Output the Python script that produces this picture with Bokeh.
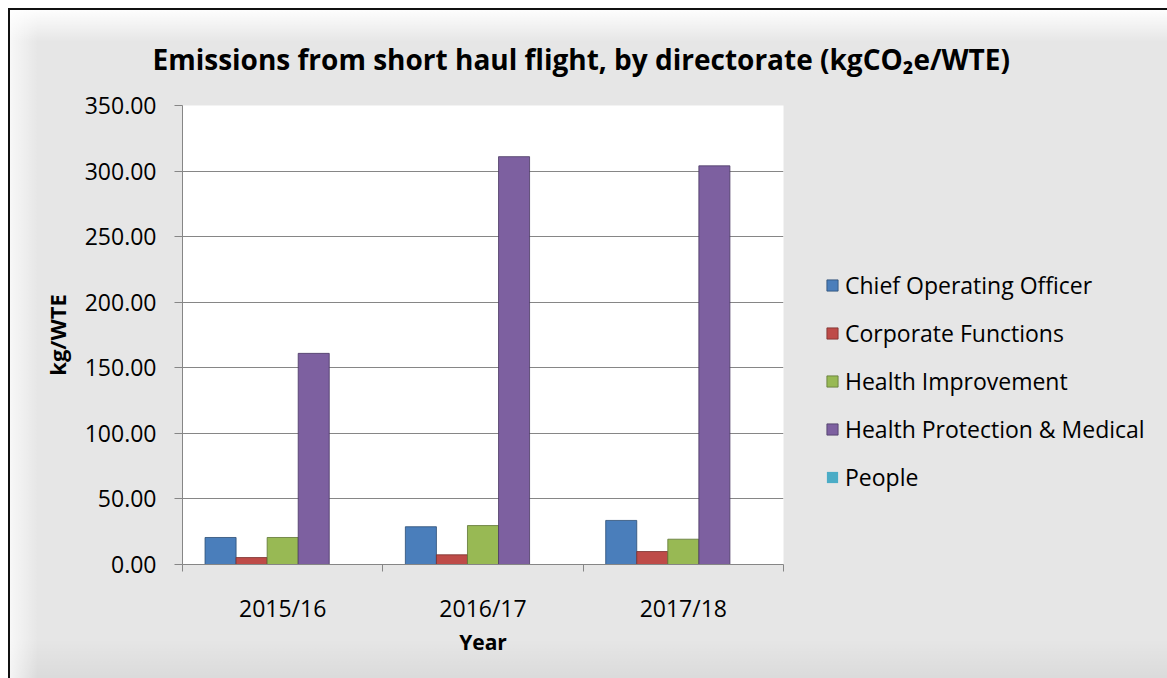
from bokeh.plotting import figure
from bokeh.models import Range1d, FixedTicker, Legend, LegendItem, ColumnDataSource, NumeralTickFormatter
from bokeh.embed import file_html
from bokeh.resources import INLINE

# ---- data ----
years = ["2015/16", "2016/17", "2017/18"]
series = ["Chief Operating Officer", "Corporate Functions", "Health Improvement",
          "Health Protection & Medical", "People"]
chief_operating_officer = [20.6, 28.8, 33.6]
corporate_functions = [5.3, 7.4, 9.9]
health_improvement = [20.6, 29.7, 19.3]
health_protection_medical = [161.0, 311.0, 304.0]
people = [0.0, 0.0, 0.0]
colors = ["#4A7EBB", "#BE4B48", "#98B954", "#7D60A0", "#4BACC6"]
edge_colors = ["#2C4D74", "#7A2F2D", "#5F7634", "#4B3964", "#2E7A8E"]
y_ticks = [0, 50, 100, 150, 200, 250, 300, 350]

values = [chief_operating_officer, corporate_functions, health_improvement,
          health_protection_medical, people]

FONT = "Open Sans"
GRAY = "#868686"

p = figure(frame_width=601, frame_height=459,
           x_range=Range1d(0, len(years)), y_range=Range1d(0, 350),
           min_border_left=172, min_border_right=385,
           min_border_top=94, min_border_bottom=115,
           output_backend="svg", toolbar_location=None)

p.background_fill_color = "white"
p.border_fill_color = "#E6E6E6"
p.border_fill_alpha = 0.0
p.outline_line_color = None

p.title.text = "Emissions from short haul flight, by directorate (kgCO\u2082e/WTE)"
p.title.text_font = FONT
p.title.text_font_style = "bold"
p.title.text_font_size = "28px"
p.title.align = "left"
p.title.offset = -30
p.title.standoff = 55
p.title.text_color = "black"

bar_w = 0.155
n = len(series)
items = []
for k, (name, vals, col, edge) in enumerate(zip(series, values, colors, edge_colors)):
    xs = [i + 0.5 + (k - (n - 1) / 2) * bar_w for i in range(len(years))]
    src = ColumnDataSource(dict(x=xs, top=vals))
    r = p.vbar(x="x", top="top", width=bar_w, bottom=0, source=src,
               fill_color=col, line_color=edge, line_width=1,
               line_alpha=0.0 if max(vals) == 0 else 0.8)
    items.append(LegendItem(label=name, renderers=[r]))

# axes
yax = p.yaxis[0]
yax.ticker = FixedTicker(ticks=y_ticks)
yax.formatter = NumeralTickFormatter(format="0.00")
yax.axis_line_color = GRAY
yax.major_tick_line_color = GRAY
yax.major_tick_out = 8
yax.major_tick_in = 0
yax.minor_tick_line_color = None
yax.major_label_text_font = FONT
yax.major_label_text_font_size = "23px"
yax.major_label_text_color = "black"
yax.major_label_standoff = 18
yax.axis_label = "kg/WTE"
yax.axis_label_text_font = FONT
yax.axis_label_text_font_style = "bold"
yax.axis_label_text_font_size = "22px"
yax.axis_label_text_color = "black"
yax.axis_label_standoff = 10

xax = p.xaxis[0]
xax.ticker = FixedTicker(ticks=[i + 0.5 for i in range(len(years))],
                         minor_ticks=list(range(len(years) + 1)))
xax.major_label_overrides = {i + 0.5: y for i, y in enumerate(years)}
xax.axis_line_color = GRAY
xax.major_tick_line_color = None
xax.major_tick_out = 0
xax.major_tick_in = 0
xax.minor_tick_line_color = GRAY
xax.minor_tick_out = 7
xax.minor_tick_in = 0
xax.major_label_text_font = FONT
xax.major_label_text_font_size = "23px"
xax.major_label_text_color = "black"
xax.major_label_standoff = 20
xax.axis_label = "Year"
xax.axis_label_text_font = FONT
xax.axis_label_text_font_style = "bold"
xax.axis_label_text_font_size = "21px"
xax.axis_label_text_color = "black"
xax.axis_label_standoff = 1

p.xgrid.grid_line_color = None
p.ygrid.grid_line_color = GRAY
p.ygrid.ticker = FixedTicker(ticks=y_ticks)

legend = Legend(items=items, location=(42, 71), orientation="vertical",
                label_text_font=FONT, label_text_font_size="23px",
                label_text_color="black",
                glyph_width=14, glyph_height=14, label_standoff=6,
                label_height=20, spacing=16, padding=0, margin=0,
                background_fill_alpha=0, border_line_color=None)
p.add_layout(legend, "right")

p.styles = {
    "border-left": "2px solid #111111",
    "border-top": "2px solid #111111",
    "margin-left": "8px",
    "margin-top": "8px",
    "background": ("linear-gradient(to bottom, rgba(255,255,255,0.95) 0px, rgba(255,255,255,0) 32px), "
                   "linear-gradient(to right, rgba(255,255,255,0.7) 0px, rgba(255,255,255,0) 28px), "
                   "linear-gradient(to top, rgba(0,0,0,0.05) 0px, rgba(0,0,0,0) 40px), "
                   "#E6E6E6"),
}

open("out.html", "w").write(file_html(p, INLINE))
